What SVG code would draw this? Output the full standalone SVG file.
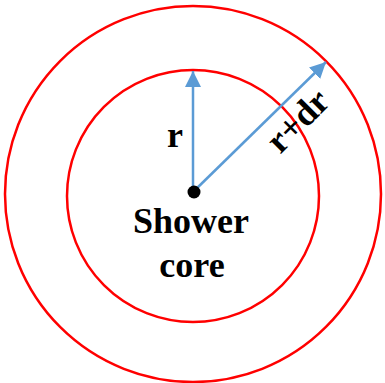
<svg xmlns="http://www.w3.org/2000/svg" width="385" height="383" viewBox="0 0 385 383">
<style>
.ring{fill:none;stroke:#FF0000;stroke-width:2.5}
.arr{stroke:#5B9BD5;stroke-width:2.5;fill:none}
.lbl{font-family:"Liberation Serif","Times New Roman",serif;font-weight:bold;font-size:36px;fill:#000}
</style>
<defs>
<marker id="ah" viewBox="0 0 10 10" refX="10" refY="5" markerUnits="userSpaceOnUse" markerWidth="16" markerHeight="16" orient="auto">
<path d="M0,0 L10,5 L0,10 z" fill="#5B9BD5"/>
</marker>
</defs>
<rect width="385" height="383" fill="#fff"/>
<g id="outer"><circle class="ring" cx="193" cy="194" r="188"/></g>
<g id="inner"><circle class="ring" cx="193" cy="196" r="126"/></g>
<g id="connectors">
<line class="arr" x1="193" y1="192" x2="193" y2="71" marker-end="url(#ah)"/>
<line class="arr" x1="193" y1="192" x2="326" y2="62" marker-end="url(#ah)"/>
</g>
<g id="core">
<circle cx="194" cy="192" r="6.5" fill="#000"/>
<text class="lbl" x="191" y="233" text-anchor="middle">Shower</text>
<text class="lbl" x="192" y="277" text-anchor="middle">core</text>
</g>
<g id="labels">
<text class="lbl" x="175" y="147" text-anchor="middle">r</text>
<text class="lbl" x="306" y="129" text-anchor="middle" font-size="37" transform="rotate(-45 306 129)">r+dr</text>
</g>
</svg>
